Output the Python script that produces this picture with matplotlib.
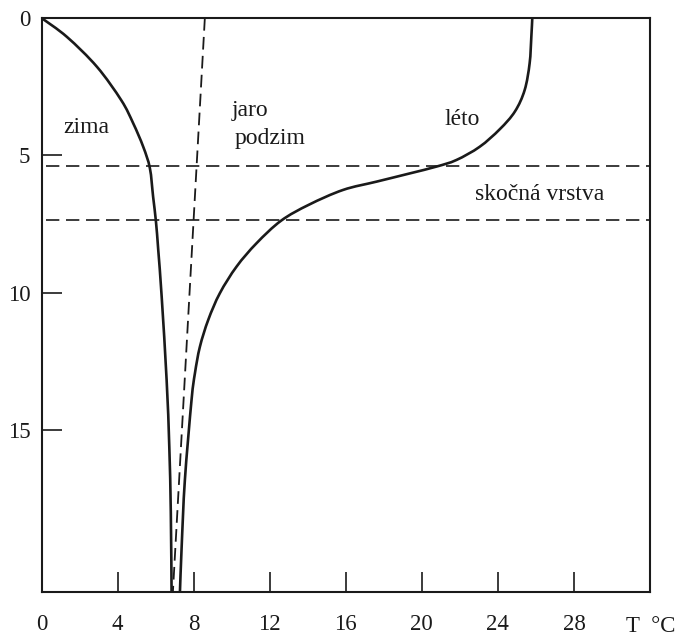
import matplotlib
matplotlib.use("Agg")
import matplotlib.pyplot as plt
from matplotlib.path import Path
from matplotlib.patches import PathPatch

plt.rcParams['font.family'] = ['Liberation Serif', 'DejaVu Serif']

# winter profile (T in °C, depth)
zima_T = [0.0, 1.34, 2.92, 4.2, 4.82, 5.35, 5.70, 5.87, 6.02, 6.14, 6.32, 6.58, 6.72, 6.80, 6.84]
zima_d = [0.0, 0.69, 1.78, 3.0, 3.83, 4.69, 5.47, 6.51, 7.42, 8.45, 10.15, 13.18, 15.6, 18.0, 20.9]

# spring / autumn (homothermy)
jaro_T = [8.59, 6.91]
jaro_d = [0.0, 20.9]

# summer profile
leto_T = [25.81, 25.76, 25.67, 25.41, 24.9, 24.1, 23.04, 21.82, 20.77, 19.36, 17.61,
          15.86, 14.06, 12.6, 11.31, 10.26, 9.38, 8.77, 8.33, 8.07, 7.89, 7.54, 7.37, 7.28]
leto_d = [0.0, 0.68, 1.65, 2.62, 3.4, 4.05, 4.69, 5.17, 5.41, 5.66, 5.96,
          6.26, 6.8, 7.38, 8.2, 9.05, 10.02, 10.99, 11.97, 12.93, 13.91, 16.82, 19.26, 20.9]

# thermocline limits
skok_d = [5.39, 7.35]

x_ticks = [0, 4, 8, 12, 16, 20, 24, 28]
y_ticks = [0, 5, 10, 15]


def smooth_path(xs, ys):
    """Catmull-Rom curve through the read points, drawn as cubic Bezier segments."""
    pts = list(zip(xs, ys))
    n = len(pts)
    verts = [pts[0]]
    codes = [Path.MOVETO]
    for i in range(n - 1):
        p0 = pts[i - 1] if i > 0 else pts[i]
        p1 = pts[i]
        p2 = pts[i + 1]
        p3 = pts[i + 2] if i + 2 < n else pts[i + 1]
        c1 = (p1[0] + (p2[0] - p0[0]) / 6, p1[1] + (p2[1] - p0[1]) / 6)
        c2 = (p2[0] - (p3[0] - p1[0]) / 6, p2[1] - (p3[1] - p1[1]) / 6)
        verts += [c1, c2, p2]
        codes += [Path.CURVE4] * 3
    return Path(verts, codes)


fig = plt.figure(figsize=(6.75, 6.37), dpi=100)
ax = fig.add_axes([41.5 / 675, 1 - 592 / 637, (650 - 41.5) / 675, (592 - 18) / 637])

for xs, ys in [(zima_T, zima_d), (leto_T, leto_d)]:
    ax.add_patch(PathPatch(smooth_path(xs, ys), fill=False, edgecolor='#1a1a1a',
                           lw=1.9, capstyle='butt'))
ax.plot(jaro_T, jaro_d, color='#1a1a1a', lw=1.3, dashes=(7, 3.5))
for d in skok_d:
    ax.plot([0.25, 32], [d, d], color='#1a1a1a', lw=1.2, dashes=(8, 4))

ax.set_xlim(0, 32)
ax.set_ylim(20.9, 0)
ax.set_xticks(x_ticks)
ax.set_yticks(y_ticks)
ax.set_xticklabels([str(v) for v in x_ticks])
ax.set_yticklabels([str(v) for v in y_ticks])
ax.tick_params(axis='both', direction='in', length=14.5, width=1.2, colors='#1a1a1a', labelsize=16.5)
ax.tick_params(axis='x', pad=16)
ax.tick_params(axis='y', pad=8)
for s in ax.spines.values():
    s.set_linewidth(1.5)
    s.set_color('#1a1a1a')

fs = 17
ax.text(1.13, 4.0, 'zima', fontsize=fs, va='center', ha='left', color='#1a1a1a')
ax.text(10.0, 3.35, 'jaro', fontsize=fs, va='center', ha='left', color='#1a1a1a')
ax.text(10.17, 4.37, 'podzim', fontsize=fs, va='center', ha='left', color='#1a1a1a')
ax.text(21.2, 3.68, 'léto', fontsize=fs, va='center', ha='left', color='#1a1a1a')
ax.text(22.78, 6.44, 'skočná vrstva', fontsize=fs, va='center', ha='left', color='#1a1a1a')

fig.text(626 / 675, 1 - 627 / 637, 'T  °C', fontsize=16.5, va='center', ha='left', color='#1a1a1a')

fig.savefig('out.png', dpi=100)
